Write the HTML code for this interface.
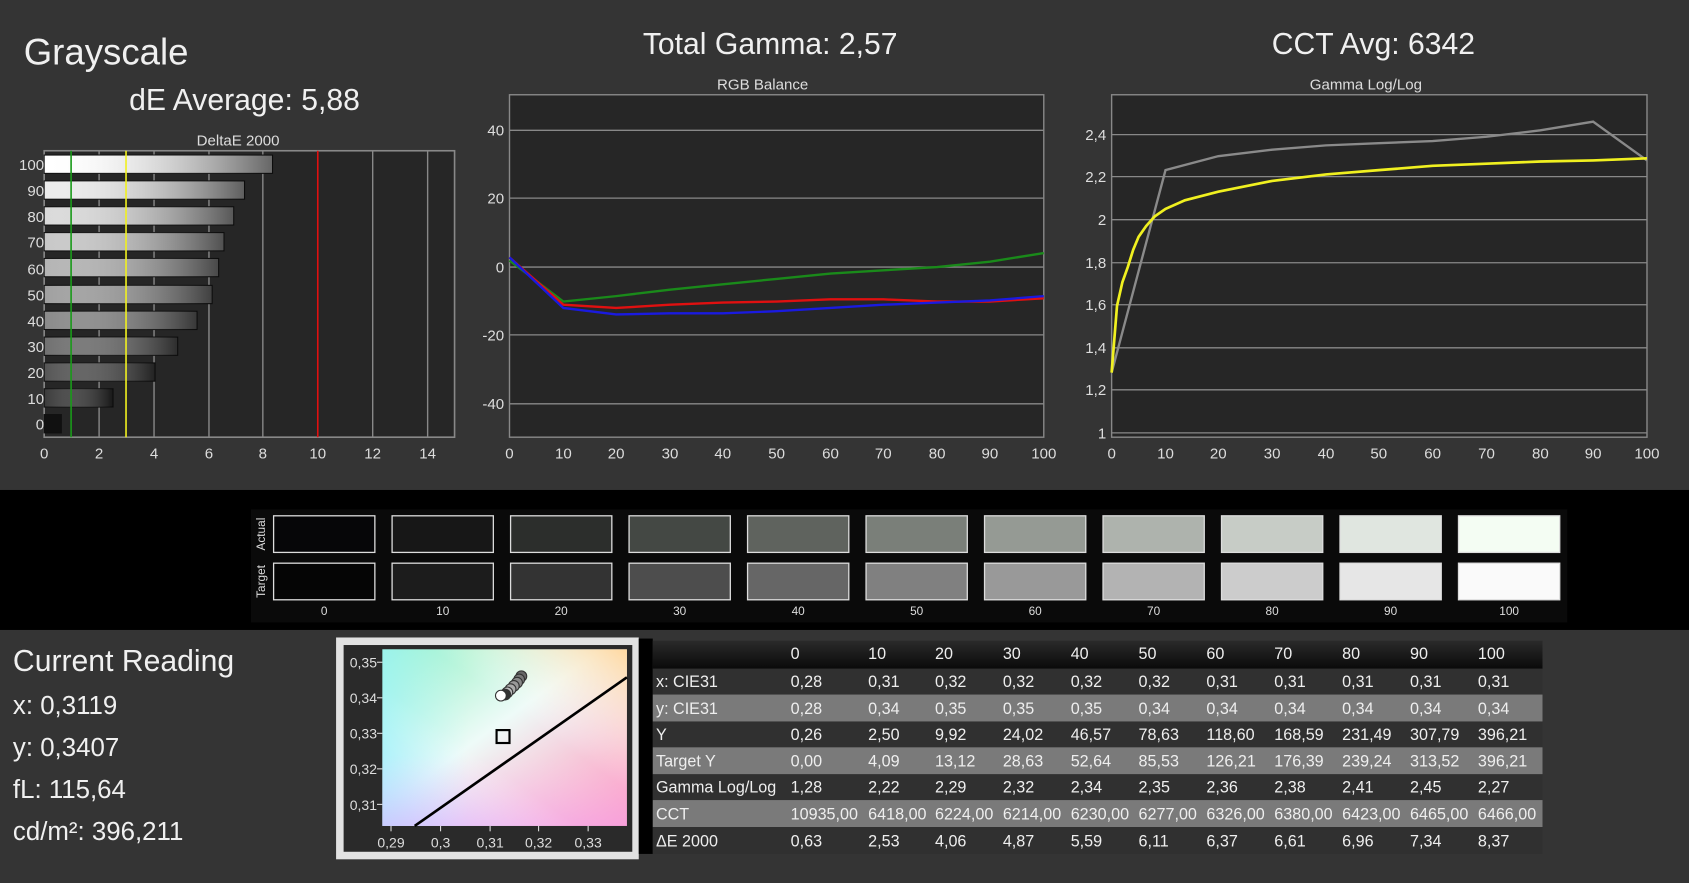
<!DOCTYPE html>
<html><head><meta charset="utf-8"><style>html,body{margin:0;padding:0;background:#333;overflow:hidden}svg{display:block}text{font-family:"Liberation Sans",sans-serif}</style></head><body>
<svg width="1689" height="883" viewBox="0 0 1568 820" preserveAspectRatio="none" xmlns="http://www.w3.org/2000/svg">
<defs>
<linearGradient id="bar" x1="0" x2="1"><stop offset="0" stop-color="#fff" stop-opacity=".0"/><stop offset="1" stop-color="#000" stop-opacity=".6"/></linearGradient>
<linearGradient id="hdr" x1="0" y1="0" x2="0" y2="1"><stop offset="0" stop-color="#2a2a2a"/><stop offset="1" stop-color="#0a0a0a"/></linearGradient>
<linearGradient id="cieA" x1="0" y1="0" x2="1" y2="1"><stop offset="0" stop-color="#8ff0c0"/><stop offset=".45" stop-color="#eefbf8"/><stop offset="1" stop-color="#ff8fb6"/></linearGradient>
<linearGradient id="cieB" x1="1" y1="0" x2="0" y2="1"><stop offset="0" stop-color="#ffd8a0"/><stop offset=".4" stop-color="#fff" stop-opacity="0"/><stop offset=".6" stop-color="#fff" stop-opacity="0"/><stop offset="1" stop-color="#a8c8ff"/></linearGradient>
<linearGradient id="cieC" x1="0" y1="0" x2="1" y2="0"><stop offset="0" stop-color="#a0f4ff" stop-opacity=".7"/><stop offset=".35" stop-color="#c0f8ff" stop-opacity="0"/></linearGradient>
<linearGradient id="cieD" x1="0" y1="1" x2="0" y2="0"><stop offset="0" stop-color="#f0b0ff" stop-opacity=".5"/><stop offset=".4" stop-color="#f8d8ff" stop-opacity="0"/></linearGradient>
</defs>
<rect width="1568" height="820" fill="#343434"/>
<rect y="455" width="1568" height="130" fill="#000"/>
<text x="22" y="60" font-size="34" fill="#f0f0f0">Grayscale</text>
<text x="227" y="102" font-size="28" fill="#f0f0f0" text-anchor="middle">dE Average: 5,88</text>
<text x="715" y="50" font-size="28" fill="#f0f0f0" text-anchor="middle">Total Gamma: 2,57</text>
<text x="1275" y="50" font-size="28" fill="#f0f0f0" text-anchor="middle">CCT Avg: 6342</text>

<text x="221" y="135" font-size="14" fill="#ddd" text-anchor="middle">DeltaE 2000</text>
<rect x="41" y="140" width="381" height="266" fill="#262626" stroke="#888" stroke-width="1.5"/>
<g stroke="#888" stroke-width="1.3">
<line x1="92" y1="140" x2="92" y2="406"/><line x1="143" y1="140" x2="143" y2="406"/><line x1="194" y1="140" x2="194" y2="406"/><line x1="244" y1="140" x2="244" y2="406"/><line x1="346" y1="140" x2="346" y2="406"/><line x1="397" y1="140" x2="397" y2="406"/>
</g>
<g stroke="#111" stroke-width="1">
<rect x="41" y="144" width="212" height="17" fill="#fff"/>
<rect x="41" y="168" width="186" height="17" fill="#ececec"/>
<rect x="41" y="192" width="176" height="17" fill="#dadada"/>
<rect x="41" y="216" width="167" height="17" fill="#c8c8c8"/>
<rect x="41" y="240" width="162" height="17" fill="#b4b4b4"/>
<rect x="41" y="265" width="156" height="17" fill="#a0a0a0"/>
<rect x="41" y="289" width="142" height="17" fill="#8a8a8a"/>
<rect x="41" y="313" width="124" height="17" fill="#707070"/>
<rect x="41" y="337" width="103" height="17" fill="#555"/>
<rect x="41" y="361" width="64" height="17" fill="#3a3a3a"/>
<rect x="41" y="385" width="16" height="17" fill="#111"/>
</g>
<g fill="url(#bar)">
<rect x="41" y="144" width="212" height="17"/><rect x="41" y="168" width="186" height="17"/><rect x="41" y="192" width="176" height="17"/><rect x="41" y="216" width="167" height="17"/><rect x="41" y="240" width="162" height="17"/><rect x="41" y="265" width="156" height="17"/><rect x="41" y="289" width="142" height="17"/><rect x="41" y="313" width="124" height="17"/><rect x="41" y="337" width="103" height="17"/><rect x="41" y="361" width="64" height="17"/>
</g>
<line x1="66" y1="140" x2="66" y2="406" stroke="#1a9a1a" stroke-width="1.5"/>
<line x1="117" y1="140" x2="117" y2="406" stroke="#f0f020" stroke-width="1.5"/>
<line x1="295" y1="140" x2="295" y2="406" stroke="#e01010" stroke-width="1.5"/>
<g font-size="14" fill="#ddd" text-anchor="end">
<text x="41" y="158">100</text><text x="41" y="182">90</text><text x="41" y="206">80</text><text x="41" y="230">70</text><text x="41" y="255">60</text><text x="41" y="279">50</text><text x="41" y="303">40</text><text x="41" y="327">30</text><text x="41" y="351">20</text><text x="41" y="375">10</text><text x="41" y="399">0</text>
</g>
<g font-size="14" fill="#ddd" text-anchor="middle">
<text x="41" y="426">0</text><text x="92" y="426">2</text><text x="143" y="426">4</text><text x="194" y="426">6</text><text x="244" y="426">8</text><text x="295" y="426">10</text><text x="346" y="426">12</text><text x="397" y="426">14</text>
</g>

<text x="708" y="83" font-size="14" fill="#ddd" text-anchor="middle">RGB Balance</text>
<rect x="473" y="88" width="496" height="318" fill="#262626" stroke="#888" stroke-width="1.3"/>
<g stroke="#888" stroke-width="1.2">
<line x1="473" y1="121" x2="969" y2="121"/><line x1="473" y1="184" x2="969" y2="184"/><line x1="473" y1="248" x2="969" y2="248"/><line x1="473" y1="311" x2="969" y2="311"/><line x1="473" y1="375" x2="969" y2="375"/>
</g>
<g font-size="14" fill="#ddd" text-anchor="end">
<text x="468" y="126">40</text><text x="468" y="189">20</text><text x="468" y="253">0</text><text x="468" y="316">-20</text><text x="468" y="380">-40</text>
</g>
<g font-size="14" fill="#ddd" text-anchor="middle">
<text x="473" y="426">0</text><text x="523" y="426">10</text><text x="572" y="426">20</text><text x="622" y="426">30</text><text x="671" y="426">40</text><text x="721" y="426">50</text><text x="771" y="426">60</text><text x="820" y="426">70</text><text x="870" y="426">80</text><text x="919" y="426">90</text><text x="969" y="426">100</text>
</g>
<g fill="none" stroke-width="2.2">
<polyline stroke="#1a8a1a" points="473,242 523,280 572,275 622,269 671,264 721,259 771,254 820,251 870,248 919,243 969,235"/>
<polyline stroke="#e01010" points="473,239 523,283 572,286 622,283 671,281 721,280 771,278 820,278 870,280 919,280 969,277"/>
<polyline stroke="#1a1ae0" points="473,239 523,286 572,292 622,291 671,291 721,289 771,286 820,283 870,281 919,279 969,275"/>
</g>

<text x="1268" y="83" font-size="14" fill="#ddd" text-anchor="middle">Gamma Log/Log</text>
<rect x="1032" y="88" width="497" height="318" fill="#262626" stroke="#888" stroke-width="1.3"/>
<g stroke="#888" stroke-width="1.2">
<line x1="1032" y1="125" x2="1529" y2="125"/><line x1="1032" y1="164" x2="1529" y2="164"/><line x1="1032" y1="204" x2="1529" y2="204"/><line x1="1032" y1="244" x2="1529" y2="244"/><line x1="1032" y1="283" x2="1529" y2="283"/><line x1="1032" y1="323" x2="1529" y2="323"/><line x1="1032" y1="362" x2="1529" y2="362"/><line x1="1032" y1="402" x2="1529" y2="402"/>
</g>
<g font-size="14" fill="#ddd" text-anchor="end">
<text x="1027" y="130">2,4</text><text x="1027" y="169">2,2</text><text x="1027" y="209">2</text><text x="1027" y="249">1,8</text><text x="1027" y="288">1,6</text><text x="1027" y="328">1,4</text><text x="1027" y="367">1,2</text><text x="1027" y="407">1</text>
</g>
<g font-size="14" fill="#ddd" text-anchor="middle">
<text x="1032" y="426">0</text><text x="1082" y="426">10</text><text x="1131" y="426">20</text><text x="1181" y="426">30</text><text x="1231" y="426">40</text><text x="1280" y="426">50</text><text x="1330" y="426">60</text><text x="1380" y="426">70</text><text x="1430" y="426">80</text><text x="1479" y="426">90</text><text x="1529" y="426">100</text>
</g>
<polyline fill="none" stroke="#8a8a8a" stroke-width="2.2" points="1032,346 1082,158 1131,145 1181,139 1231,135 1280,133 1330,131 1380,127 1430,121 1479,113 1529,149"/>
<path fill="none" stroke="#f0f020" stroke-width="2.5" d="M1032,346 L1037,284 L1042,262 L1047,248 L1052,232 L1057,220 L1064,210 L1072,201 L1082,194 L1100,186 L1131,178 L1181,168 L1231,162 L1280,158 L1330,154 L1380,152 L1430,150 L1479,149 L1529,147"/>

<rect x="233" y="473" width="1222" height="105" fill="#0a0a0a"/>
<text transform="translate(246,496) rotate(-90)" font-size="11" fill="#ddd" text-anchor="middle">Actual</text>
<text transform="translate(246,540) rotate(-90)" font-size="11" fill="#ddd" text-anchor="middle">Target</text>
<g stroke="#ddd" stroke-width="1.2">
<rect x="254" y="479" width="94" height="34" fill="#060608"/><rect x="364" y="479" width="94" height="34" fill="#171717"/><rect x="474" y="479" width="94" height="34" fill="#2c2e2c"/><rect x="584" y="479" width="94" height="34" fill="#444844"/><rect x="694" y="479" width="94" height="34" fill="#5f635e"/><rect x="804" y="479" width="94" height="34" fill="#7a7f79"/><rect x="914" y="479" width="94" height="34" fill="#959a94"/><rect x="1024" y="479" width="94" height="34" fill="#aeb3ad"/><rect x="1134" y="479" width="94" height="34" fill="#c7ccc6"/><rect x="1244" y="479" width="94" height="34" fill="#e0e6e0"/><rect x="1354" y="479" width="94" height="34" fill="#f4fdf3"/>
<rect x="254" y="523" width="94" height="34" fill="#050505"/><rect x="364" y="523" width="94" height="34" fill="#1c1c1c"/><rect x="474" y="523" width="94" height="34" fill="#333"/><rect x="584" y="523" width="94" height="34" fill="#4d4d4d"/><rect x="694" y="523" width="94" height="34" fill="#666"/><rect x="804" y="523" width="94" height="34" fill="#808080"/><rect x="914" y="523" width="94" height="34" fill="#999"/><rect x="1024" y="523" width="94" height="34" fill="#b3b3b3"/><rect x="1134" y="523" width="94" height="34" fill="#ccc"/><rect x="1244" y="523" width="94" height="34" fill="#e6e6e6"/><rect x="1354" y="523" width="94" height="34" fill="#fafafa"/>
</g>
<g font-size="11" fill="#ddd" text-anchor="middle">
<text x="301" y="571">0</text><text x="411" y="571">10</text><text x="521" y="571">20</text><text x="631" y="571">30</text><text x="741" y="571">40</text><text x="851" y="571">50</text><text x="961" y="571">60</text><text x="1071" y="571">70</text><text x="1181" y="571">80</text><text x="1291" y="571">90</text><text x="1401" y="571">100</text>
</g>

<g fill="#f0f0f0">
<text x="12" y="623" font-size="28">Current Reading</text>
<text x="12" y="663" font-size="24">x: 0,3119</text>
<text x="12" y="702" font-size="24">y: 0,3407</text>
<text x="12" y="741" font-size="24">fL: 115,64</text>
<text x="12" y="780" font-size="24">cd/m²: 396,211</text>
</g>

<rect x="312" y="592" width="281" height="206" fill="#e2e2e2"/>
<rect x="319" y="599" width="268" height="192" fill="#2a2a2a"/>
<rect x="355" y="603" width="227" height="164" fill="url(#cieA)"/>
<rect x="355" y="603" width="227" height="164" fill="url(#cieB)"/>
<rect x="355" y="603" width="227" height="164" fill="url(#cieC)"/>
<rect x="355" y="603" width="227" height="164" fill="url(#cieD)"/>
<g stroke="#ddd" stroke-width="1"><line x1="350" y1="615" x2="355" y2="615"/><line x1="350" y1="648" x2="355" y2="648"/><line x1="350" y1="681" x2="355" y2="681"/><line x1="350" y1="714" x2="355" y2="714"/><line x1="350" y1="747" x2="355" y2="747"/>
<line x1="363" y1="767" x2="363" y2="772"/><line x1="409" y1="767" x2="409" y2="772"/><line x1="455" y1="767" x2="455" y2="772"/><line x1="500" y1="767" x2="500" y2="772"/><line x1="546" y1="767" x2="546" y2="772"/></g>
<g font-size="13" fill="#ddd" text-anchor="end">
<text x="350" y="620">0,35</text><text x="350" y="653">0,34</text><text x="350" y="686">0,33</text><text x="350" y="719">0,32</text><text x="350" y="752">0,31</text>
</g>
<g font-size="13" fill="#ddd" text-anchor="middle">
<text x="363" y="787">0,29</text><text x="409" y="787">0,3</text><text x="455" y="787">0,31</text><text x="500" y="787">0,32</text><text x="546" y="787">0,33</text>
</g>
<line x1="385" y1="767" x2="582" y2="629" stroke="#000" stroke-width="2.5"/>
<g stroke="#333" stroke-width="1">
<circle cx="484" cy="628" r="5" fill="#666"/><circle cx="482" cy="631" r="5" fill="#777"/><circle cx="480" cy="634" r="5" fill="#888"/><circle cx="477" cy="637" r="5" fill="#999"/><circle cx="474" cy="640" r="5" fill="#aaa"/><circle cx="471" cy="643" r="5" fill="#bbb"/><circle cx="469" cy="645" r="5" fill="#333"/><circle cx="465" cy="646" r="5" fill="#fff"/>
</g>
<rect x="461" y="678" width="12" height="12" fill="none" stroke="#000" stroke-width="2"/>

<rect x="593" y="593" width="13" height="200" fill="#000"/>
<rect x="606" y="595" width="826" height="26" fill="url(#hdr)"/>
<rect x="606" y="621" width="826" height="24" fill="#303030"/>
<rect x="606" y="645" width="826" height="25" fill="#7a7a7a"/>
<rect x="606" y="670" width="826" height="24" fill="#303030"/>
<rect x="606" y="694" width="826" height="25" fill="#7a7a7a"/>
<rect x="606" y="719" width="826" height="24" fill="#303030"/>
<rect x="606" y="743" width="826" height="25" fill="#7a7a7a"/>
<rect x="606" y="768" width="826" height="25" fill="#303030"/>
<g font-size="15" fill="#eee">
<text y="612"><tspan x="734">0</tspan><tspan x="806">10</tspan><tspan x="868">20</tspan><tspan x="931">30</tspan><tspan x="994">40</tspan><tspan x="1057">50</tspan><tspan x="1120">60</tspan><tspan x="1183">70</tspan><tspan x="1246">80</tspan><tspan x="1309">90</tspan><tspan x="1372">100</tspan></text>
<text y="638"><tspan x="609">x: CIE31</tspan><tspan x="734">0,28</tspan><tspan x="806">0,31</tspan><tspan x="868">0,32</tspan><tspan x="931">0,32</tspan><tspan x="994">0,32</tspan><tspan x="1057">0,32</tspan><tspan x="1120">0,31</tspan><tspan x="1183">0,31</tspan><tspan x="1246">0,31</tspan><tspan x="1309">0,31</tspan><tspan x="1372">0,31</tspan></text>
<text y="663"><tspan x="609">y: CIE31</tspan><tspan x="734">0,28</tspan><tspan x="806">0,34</tspan><tspan x="868">0,35</tspan><tspan x="931">0,35</tspan><tspan x="994">0,35</tspan><tspan x="1057">0,34</tspan><tspan x="1120">0,34</tspan><tspan x="1183">0,34</tspan><tspan x="1246">0,34</tspan><tspan x="1309">0,34</tspan><tspan x="1372">0,34</tspan></text>
<text y="687"><tspan x="609">Y</tspan><tspan x="734">0,26</tspan><tspan x="806">2,50</tspan><tspan x="868">9,92</tspan><tspan x="931">24,02</tspan><tspan x="994">46,57</tspan><tspan x="1057">78,63</tspan><tspan x="1120">118,60</tspan><tspan x="1183">168,59</tspan><tspan x="1246">231,49</tspan><tspan x="1309">307,79</tspan><tspan x="1372">396,21</tspan></text>
<text y="712"><tspan x="609">Target Y</tspan><tspan x="734">0,00</tspan><tspan x="806">4,09</tspan><tspan x="868">13,12</tspan><tspan x="931">28,63</tspan><tspan x="994">52,64</tspan><tspan x="1057">85,53</tspan><tspan x="1120">126,21</tspan><tspan x="1183">176,39</tspan><tspan x="1246">239,24</tspan><tspan x="1309">313,52</tspan><tspan x="1372">396,21</tspan></text>
<text y="736"><tspan x="609">Gamma Log/Log</tspan><tspan x="734">1,28</tspan><tspan x="806">2,22</tspan><tspan x="868">2,29</tspan><tspan x="931">2,32</tspan><tspan x="994">2,34</tspan><tspan x="1057">2,35</tspan><tspan x="1120">2,36</tspan><tspan x="1183">2,38</tspan><tspan x="1246">2,41</tspan><tspan x="1309">2,45</tspan><tspan x="1372">2,27</tspan></text>
<text y="761"><tspan x="609">CCT</tspan><tspan x="734">10935,00</tspan><tspan x="806">6418,00</tspan><tspan x="868">6224,00</tspan><tspan x="931">6214,00</tspan><tspan x="994">6230,00</tspan><tspan x="1057">6277,00</tspan><tspan x="1120">6326,00</tspan><tspan x="1183">6380,00</tspan><tspan x="1246">6423,00</tspan><tspan x="1309">6465,00</tspan><tspan x="1372">6466,00</tspan></text>
<text y="786"><tspan x="609">ΔE 2000</tspan><tspan x="734">0,63</tspan><tspan x="806">2,53</tspan><tspan x="868">4,06</tspan><tspan x="931">4,87</tspan><tspan x="994">5,59</tspan><tspan x="1057">6,11</tspan><tspan x="1120">6,37</tspan><tspan x="1183">6,61</tspan><tspan x="1246">6,96</tspan><tspan x="1309">7,34</tspan><tspan x="1372">8,37</tspan></text>
</g>
</svg>
</body></html>
